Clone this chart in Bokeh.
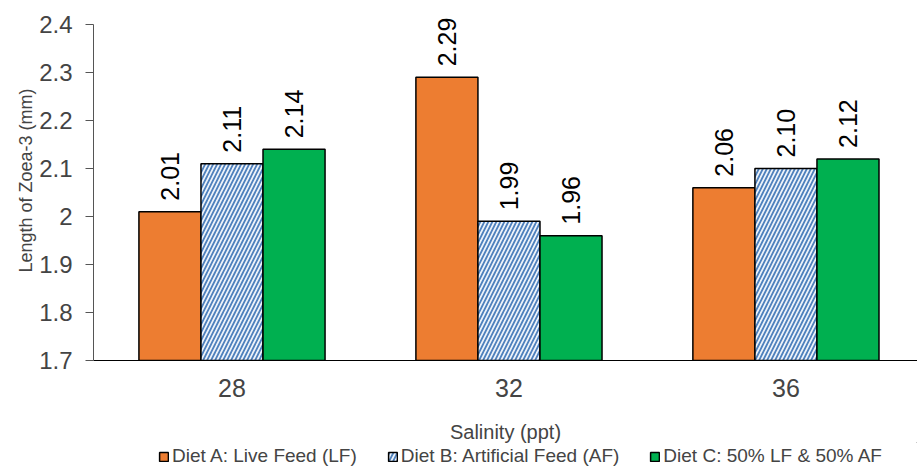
import numpy as np
from bokeh.plotting import figure
from bokeh.layouts import column
from bokeh.models import ColumnDataSource, Legend, LegendItem, FixedTicker, Range1d
from bokeh.core.properties import value
from bokeh.embed import file_html
from bokeh.resources import INLINE

salinity = ["28", "32", "36"]
diet_names = ["Diet A: Live Feed (LF)", "Diet B: Artificial Feed (AF)", "Diet C: 50% LF & 50% AF"]
diet_a = [2.01, 2.29, 2.06]
diet_b = [2.11, 1.99, 2.10]
diet_c = [2.14, 1.96, 2.12]
y_ticks = [1.7, 1.8, 1.9, 2.0, 2.1, 2.2, 2.3, 2.4]
y_min, y_max = 1.7, 2.4

FONT = "Liberation Sans"
p = figure(width=917, height=418, output_backend="svg", toolbar_location=None,
           x_range=Range1d(-0.5, 2.475), y_range=Range1d(y_min, y_max + 0.05),
           min_border_left=93, min_border_right=0, min_border_top=0, min_border_bottom=58)
p.outline_line_color = None
p.xgrid.grid_line_color = None
p.ygrid.grid_line_color = None
p.background_fill_color = "white"
p.border_fill_color = "white"

x = np.arange(len(salinity))
w = 0.224
offsets = [-w, 0, w]
series = [diet_a, diet_b, diet_c]
styles = [
    dict(fill_color="#ED7D31"),
    dict(fill_color="#EEF3FA", hatch_pattern="/", hatch_color="#4F81BD", hatch_scale=8, hatch_weight=1.8),
    dict(fill_color="#00B050"),
]
for vals, off, st in zip(series, offsets, styles):
    src = ColumnDataSource(dict(x=x + off, top=vals, bottom=[y_min] * len(vals),
                                lab=["%.2f" % v for v in vals]))
    p.vbar(x="x", top="top", bottom="bottom", width=w, source=src,
           line_color="black", line_width=1.5, **st)
    p.text(x="x", y="top", text="lab", source=src, angle=np.pi / 2,
           text_align="left", text_baseline="middle", x_offset=0, y_offset=-11,
           text_font=value(FONT), text_font_size="25px", text_color="black")

p.yaxis.bounds = (y_min, y_max)
p.yaxis.ticker = FixedTicker(ticks=y_ticks)
p.yaxis.major_label_overrides = {1.7: "1.7", 1.8: "1.8", 1.9: "1.9", 2.0: "2", 2.1: "2.1",
                                 2.2: "2.2", 2.3: "2.3", 2.4: "2.4"}
p.yaxis.major_label_text_font = FONT
p.yaxis.major_label_text_font_size = "24px"
p.yaxis.major_label_standoff = 13
p.yaxis.major_tick_out = 8
p.yaxis.major_tick_in = 0
p.yaxis.minor_tick_line_color = None
p.yaxis.axis_line_color = "#555555"
p.yaxis.major_tick_line_color = "#555555"
p.yaxis.axis_label = "Length of Zoea-3 (mm)"
p.yaxis.axis_label_text_font = FONT
p.yaxis.axis_label_text_font_size = "18px"
p.yaxis.axis_label_text_font_style = "normal"
p.yaxis.axis_label_standoff = 0

p.xaxis.ticker = FixedTicker(ticks=list(x))
p.xaxis.major_label_overrides = {i: s for i, s in enumerate(salinity)}
p.xaxis.major_label_text_font = FONT
p.xaxis.major_label_text_font_size = "25px"
p.xaxis.major_label_standoff = 18
p.xaxis.major_tick_out = 0
p.xaxis.major_tick_in = 0
p.xaxis.major_tick_line_color = None
p.xaxis.minor_tick_line_color = None
p.xaxis.axis_line_color = "black"
p.xaxis.axis_line_width = 1.2

# Strip below the chart: x-axis title and legend
lg = figure(width=917, height=50, output_backend="svg", toolbar_location=None,
            x_range=Range1d(0, 1), y_range=Range1d(0, 1),
            min_border_left=0, min_border_right=0, min_border_top=0, min_border_bottom=0)
lg.axis.visible = False
lg.xgrid.grid_line_color = None
lg.ygrid.grid_line_color = None
lg.outline_line_color = None
lg.border_fill_color = "white"
lg.title.text = "Salinity (ppt)"
lg.title.align = "center"
lg.title.text_font = FONT
lg.title.text_font_size = "20px"
lg.title.text_font_style = "normal"
lg.title.standoff = 0
lg.title.offset = 10
dummies = []
for st in styles:
    dummies.append(lg.vbar(x=[5], top=[5], bottom=[4], width=0.5,
                           line_color="black", line_width=1.5, **st))
legend = Legend(items=[LegendItem(label=n, renderers=[r]) for n, r in zip(diet_names, dummies)],
                orientation="horizontal", location=(65, 1),
                label_text_font=FONT, label_text_font_size="19px",
                glyph_width=11, glyph_height=11, label_standoff=3, spacing=30,
                border_line_color=None, padding=0, margin=0, background_fill_alpha=0)
lg.add_layout(legend, "center")

layout = column(p, lg, spacing=0)
open("out.html", "w").write(file_html(layout, INLINE))
